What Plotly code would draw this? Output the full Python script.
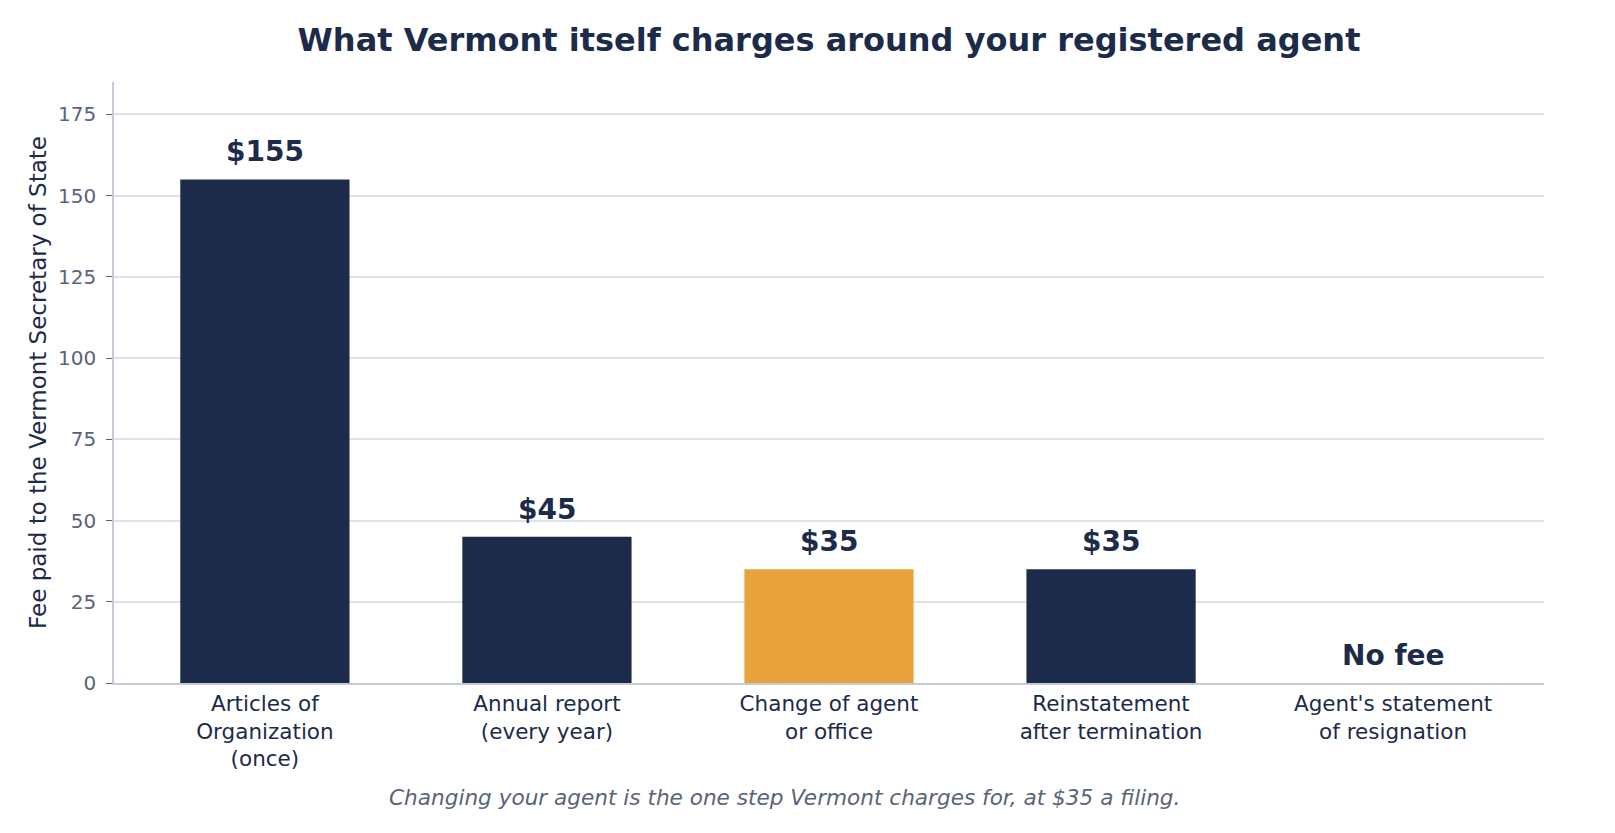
import plotly.graph_objects as go

categories = ["Articles of<br>Organization<br>(once)", "Annual report<br>(every year)",
              "Change of agent<br>or office", "Reinstatement<br>after termination",
              "Agent's statement<br>of resignation"]
fees = [155, 45, 35, 35, 0]
fee_labels = ["$155", "$45", "$35", "$35", "No fee"]
bar_colors = ["#1c2b4a", "#1c2b4a", "#e8a33d", "#1c2b4a", "#1c2b4a"]

navy = "#1c2b4a"
font = "DejaVu Sans"

fig = go.Figure(go.Bar(
    x=categories, y=fees,
    marker=dict(color=bar_colors, line=dict(width=0)),
    showlegend=False,
))

# value labels above each bar
for cat, fee, lab in zip(categories, fees, fee_labels):
    fig.add_annotation(x=cat, y=fee, text="<b>" + lab + "</b>", showarrow=False,
                       yanchor="bottom", yshift=9,
                       font=dict(family=font, size=28, color=navy))

fig.update_layout(
    width=1615, height=833,
    paper_bgcolor="white", plot_bgcolor="white",
    margin=dict(l=106, r=79, t=74, b=158),
    bargap=0.4,
    font=dict(family=font, color=navy),
    title=dict(text="<b>What Vermont itself charges around your registered agent</b>",
               x=0.5, xref="paper", xanchor="center", y=0.9616, yanchor="middle",
               font=dict(family=font, size=32, color=navy)),
)
fig.update_yaxes(
    range=[0, 185], dtick=25, showgrid=True, gridcolor="#dde1ea", gridwidth=1.5,
    showline=True, linecolor="#c5cbd6", linewidth=1.5,
    ticks="outside", ticklen=6, tickcolor="#5a6478", ticklabelstandoff=6,
    tickfont=dict(family=font, size=20, color="#5a6478"),
    title=dict(text="Fee paid to the Vermont Secretary of State",
               font=dict(family=font, size=23, color=navy), standoff=5),
    zeroline=False,
)
fig.update_xaxes(
    range=[-0.535, 4.535],
    showline=True, linecolor="#c5cbd6", linewidth=1.5,
    tickfont=dict(family=font, size=21.5, color=navy),
)
fig.add_annotation(
    text="<i>Changing your agent is the one step Vermont charges for, at $35 a filing.</i>",
    xref="paper", yref="paper", x=0.4686, y=-0.191, xanchor="center", yanchor="middle",
    showarrow=False, font=dict(family=font, size=21.6, color="#5a6478"),
)

fig.write_html("out.html")
